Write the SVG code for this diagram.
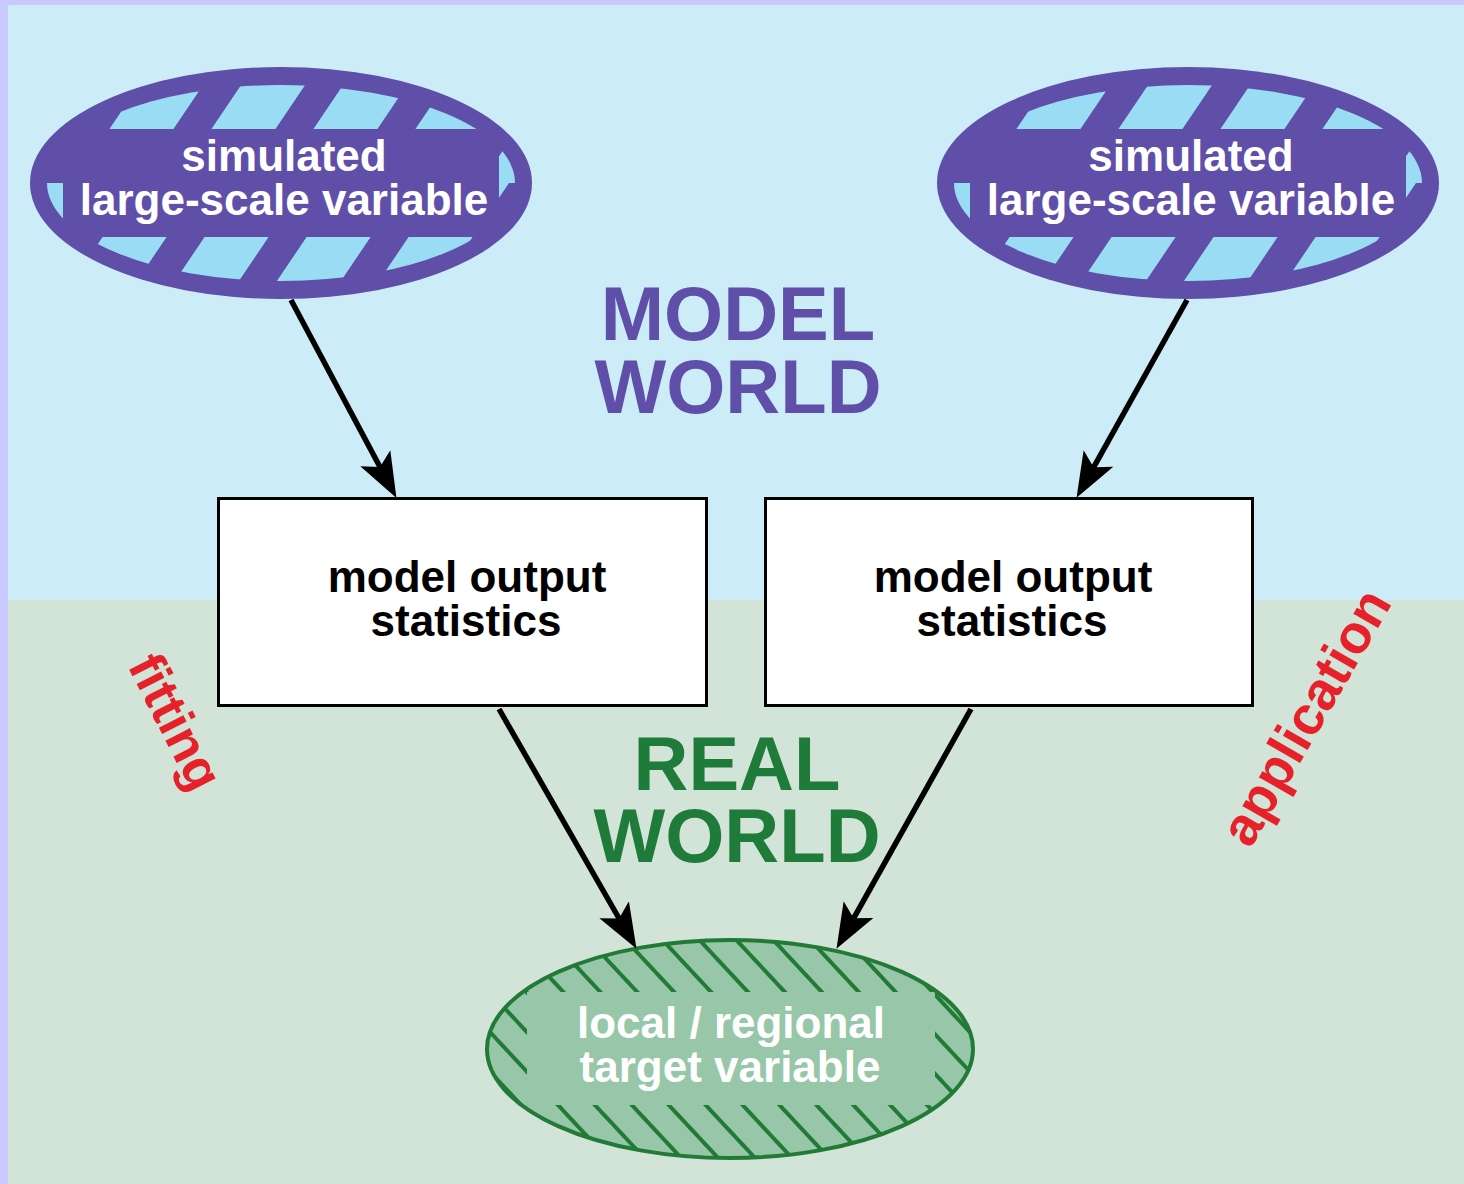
<svg xmlns="http://www.w3.org/2000/svg" width="1464" height="1184" viewBox="0 0 1464 1184">
<style>
.bOuter{fill:#5F4FA8}
.band{fill:#5F4FA8}
.wt{fill:#FFFFFF;font-family:"Liberation Sans",Arial,sans-serif;font-weight:bold;font-size:44px;text-anchor:middle}
.bt{fill:#000000;font-family:"Liberation Sans",Arial,sans-serif;font-weight:bold;font-size:44px;text-anchor:middle}
.box{fill:#FFFFFF;stroke:#000000;stroke-width:3}
.big{font-family:"Liberation Sans",Arial,sans-serif;font-weight:bold;font-size:76px;text-anchor:middle}
.red{fill:#E62129;font-family:"Liberation Sans",Arial,sans-serif;font-weight:bold;text-anchor:middle}
.conn{stroke:#000000;stroke-width:5.5;fill:none;marker-end:url(#ah)}
</style>
<defs>
<marker id="ah" markerUnits="userSpaceOnUse" viewBox="0 -20 50 40" markerWidth="50" markerHeight="40" refX="10" refY="0" orient="auto">
<path d="M0,-17 L45,0 L0,17 L10,0 Z" fill="#000000"/>
</marker>
<pattern id="stTop" patternUnits="userSpaceOnUse" width="102" height="400" patternTransform="translate(-4,0) skewX(-34)">
<rect width="64" height="400" fill="#9ADCF4"/>
</pattern>
<pattern id="stBot" patternUnits="userSpaceOnUse" width="102" height="400" patternTransform="translate(-40,0) skewX(-34)">
<rect width="64" height="400" fill="#9ADCF4"/>
</pattern>
<clipPath id="innerE"><ellipse cx="0" cy="0" rx="234" ry="98"/></clipPath>
<pattern id="hatch" patternUnits="userSpaceOnUse" width="27" height="27" patternTransform="rotate(47)">
<rect width="27" height="4" fill="#217A35"/>
</pattern>
<clipPath id="greenE"><ellipse cx="0" cy="0" rx="243" ry="109"/></clipPath>
</defs>

<g id="background">
<rect x="0" y="0" width="1464" height="1184" fill="#C9C9FF"/>
<rect x="8" y="5" width="1456" height="595" fill="#CCEDF8"/>
<rect x="8" y="600" width="1456" height="584" fill="#D2E3D8"/>
</g>

<g id="label-model-world">
<text class="big" x="738" y="340" fill="#5F4FA8">MODEL</text>
<text class="big" x="738" y="413" fill="#5F4FA8">WORLD</text>
</g>
<g id="label-real-world">
<text class="big" x="737" y="790" fill="#1E7B3A">REAL</text>
<text class="big" x="737" y="862" fill="#1E7B3A">WORLD</text>
</g>

<g id="sim-left" transform="translate(281,183)">
<ellipse class="bOuter" cx="0" cy="0" rx="251" ry="116"/>
<g clip-path="url(#innerE)">
<rect x="-250" y="-100" width="500" height="100" fill="url(#stTop)"/>
<rect x="-250" y="0" width="500" height="100" fill="url(#stBot)"/>
</g>
<rect class="band" x="-218" y="-54" width="436" height="108"/>
<text class="wt" x="3" y="-12">simulated</text>
<text class="wt" x="3" y="32">large-scale variable</text>
</g>

<g id="sim-right" transform="translate(1188,183)">
<ellipse class="bOuter" cx="0" cy="0" rx="251" ry="116"/>
<g clip-path="url(#innerE)">
<rect x="-250" y="-100" width="500" height="100" fill="url(#stTop)"/>
<rect x="-250" y="0" width="500" height="100" fill="url(#stBot)"/>
</g>
<rect class="band" x="-218" y="-54" width="436" height="108"/>
<text class="wt" x="3" y="-12">simulated</text>
<text class="wt" x="3" y="32">large-scale variable</text>
</g>

<g id="mos-left">
<rect class="box" x="218.5" y="498.5" width="488" height="207"/>
<text class="bt" x="467" y="592">model output</text>
<text class="bt" x="466" y="636">statistics</text>
</g>

<g id="mos-right">
<rect class="box" x="765.5" y="498.5" width="487" height="207"/>
<text class="bt" x="1013" y="592">model output</text>
<text class="bt" x="1012" y="636">statistics</text>
</g>

<g id="target" transform="translate(730,1049)">
<ellipse cx="0" cy="0" rx="243" ry="109" fill="#97C7A8"/>
<g clip-path="url(#greenE)">
<rect x="-250" y="-115" width="500" height="230" fill="url(#hatch)"/>
</g>
<rect x="-203" y="-57" width="408" height="113" fill="#97C7A8"/>
<ellipse cx="0" cy="0" rx="243" ry="109" fill="none" stroke="#217A35" stroke-width="4"/>
<text class="wt" x="1" y="-11">local / regional</text>
<text class="wt" x="0" y="33">target variable</text>
</g>

<g id="connectors">
<line class="conn" x1="291" y1="300" x2="380" y2="467"/>
<line class="conn" x1="1187" y1="300" x2="1093.6" y2="467.3"/>
<line class="conn" x1="499" y1="709" x2="619.1" y2="918.5"/>
<line class="conn" x1="971" y1="709" x2="853.6" y2="918.3"/>
</g>

<g id="label-fitting">
<text class="red" font-size="52" x="0" y="17" transform="translate(175,722) rotate(63)">fitting</text>
</g>
<g id="label-application">
<text class="red" font-size="54" x="0" y="18" transform="translate(1306,717) rotate(-60)">application</text>
</g>
</svg>
